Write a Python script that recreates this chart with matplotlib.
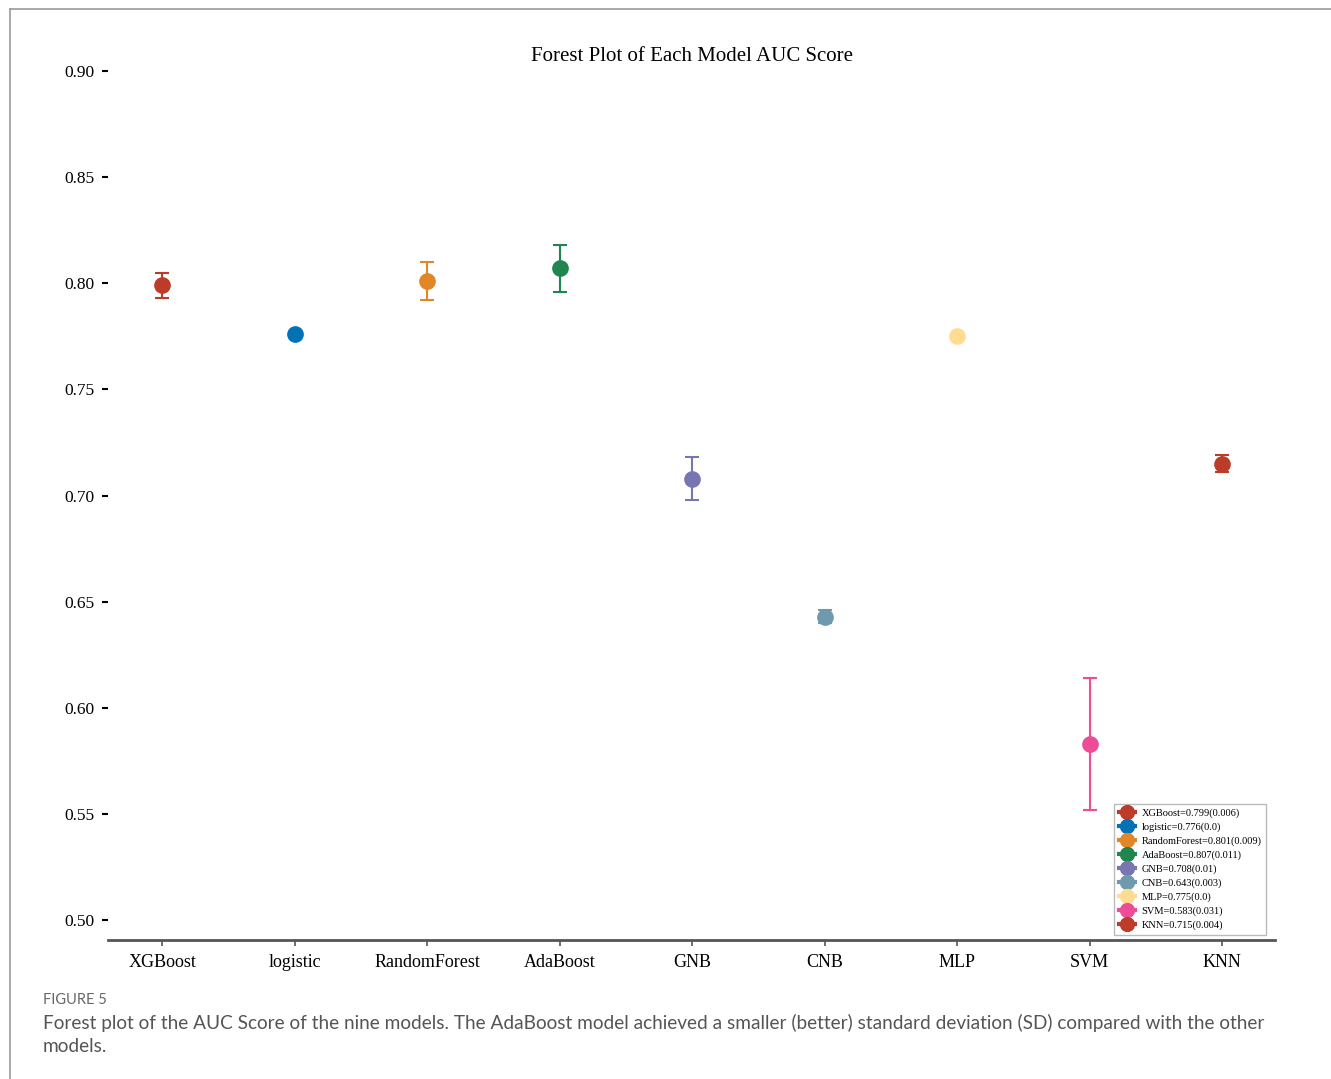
import matplotlib.pyplot as plt
from matplotlib.lines import Line2D

models = ['XGBoost', 'logistic', 'RandomForest', 'AdaBoost', 'GNB', 'CNB', 'MLP', 'SVM', 'KNN']
auc_mean = [0.799, 0.776, 0.801, 0.807, 0.708, 0.643, 0.775, 0.583, 0.715]
auc_sd = [0.006, 0.0, 0.009, 0.011, 0.01, 0.003, 0.0, 0.031, 0.004]
colors = ['#BC3C29', '#0072B5', '#E18727', '#20854E', '#7876B1',
          '#6F99AD', '#FFDC91', '#EE4C97', '#BC3C29']

plt.rcParams['font.family'] = ['Liberation Serif', 'DejaVu Serif']

fig = plt.figure(figsize=(13.31, 10.79), dpi=100)
ax = fig.add_axes([0.0811, 0.1288, 0.8769, 0.8137])

handles = []
for i, (m, mu, sd, c) in enumerate(zip(models, auc_mean, auc_sd, colors)):
    ax.errorbar(i, mu, yerr=sd, fmt='o', color=c, ms=11, capsize=5,
                elinewidth=1.5, capthick=1.5)
    handles.append(Line2D([0], [0], color=c, marker='o', ms=10, lw=3,
                          label=f'{m}={mu}({sd})'))

ax.set_xlim(-0.41, 8.4)
ax.set_ylim(0.4906, 0.9042)
ax.set_xticks(range(len(models)))
ax.set_xticklabels(models, fontsize=13)
ax.set_yticks([0.50, 0.55, 0.60, 0.65, 0.70, 0.75, 0.80, 0.85, 0.90])
ax.set_yticklabels(['0.50', '0.55', '0.60', '0.65', '0.70', '0.75', '0.80', '0.85', '0.90'], fontsize=12.5)
for s in ['top', 'right', 'left']:
    ax.spines[s].set_visible(False)
ax.spines['bottom'].set_linewidth(2)
ax.spines['bottom'].set_color('#555555')
ax.tick_params(axis='y', length=4, width=1.5, pad=6)
ax.tick_params(axis='x', length=4, width=1.2, color='#555555', pad=6)
ax.set_title('Forest Plot of Each Model AUC Score', fontsize=15, y=0.997, va='center')

ax.legend(handles=handles, loc='lower right', fontsize=7.5, handlelength=1.6,
          handletextpad=0.6, borderpad=0.45, labelspacing=0.42, framealpha=1,
          edgecolor='#bbbbbb', fancybox=False, bbox_to_anchor=(0.997, 0.0))

# figure frame and caption
fig.add_artist(Line2D([10 / 1331, 10 / 1331], [0, 1 - 9 / 1079], color='#999999', lw=1.2))
fig.add_artist(Line2D([10 / 1331, 1], [1 - 9 / 1079, 1 - 9 / 1079], color='#999999', lw=1.2))
cap_font = ['Lato', 'DejaVu Sans']
fig.text(43 / 1331, 1 - 1000 / 1079, 'FIGURE 5', fontsize=10.5, color='#666666',
         family=cap_font, va='center')
fig.text(43 / 1331, 1 - 1023 / 1079,
         'Forest plot of the AUC Score of the nine models. The AdaBoost model achieved a smaller (better) '
         'standard deviation (SD) compared with the other',
         fontsize=13.7, color='#555555', family=cap_font, va='center')
fig.text(43 / 1331, 1 - 1047 / 1079, 'models.', fontsize=13.7, color='#555555',
         family=cap_font, va='center')

fig.savefig('out.png', dpi=100)
